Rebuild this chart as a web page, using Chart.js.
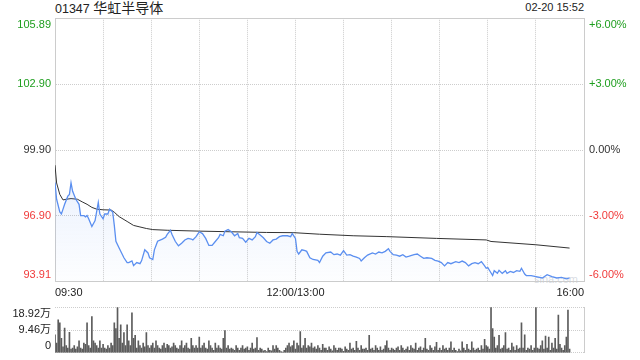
<!DOCTYPE html>
<html><head><meta charset="utf-8">
<script src="https://cdn.jsdelivr.net/npm/chart.js@4.4.1/dist/chart.umd.min.js"></script>
<style>
html,body{margin:0;padding:0;background:#fff;width:640px;height:360px;overflow:hidden;position:relative;font-family:"Liberation Sans","Noto Sans CJK SC",sans-serif;}
#c1{position:absolute;left:0;top:0;}
#c2{position:absolute;left:0;top:290px;}
.t{position:absolute;white-space:nowrap;color:#222;}
</style></head><body>
<div class="t" style="left:55px;top:-1px;line-height:16px;"><span style="font-size:12.5px">01347 </span><span style="font-size:14px;font-family:'Noto Sans CJK SC'">华虹半导体</span></div>
<div class="t" style="right:56px;top:1px;font-size:11px;line-height:13px;">02-20 15:52</div>
<div class="t" style="left:534px;top:273px;font-size:11px;color:rgba(140,150,170,0.35);">sina.com</div>
<canvas id="c1" width="640" height="300"></canvas>
<canvas id="c2" width="640" height="80"></canvas>
<script>
const prevClose = 99.90;
const pctSteps = [-6, -3, 0, 3, 6];
const priceTickLabels = ['93.91', '96.90', '99.90', '102.90', '105.89'];
const pctTickLabels = ['-6.00%', '-3.00%', '0.00%', '+3.00%', '+6.00%'];
const gridMinutes = [0,30,60,90,120,150,180,210,240,270,300,330];
const xTickMinutes = [0, 150, 330];
const xTickLabels = ['09:30', '12:00/13:00', '16:00'];
const volTicks = [0, 9.46, 18.92];
const volTickLabels = ['0', '9.46万', '18.92万'];

const priceMinutes = [0,1,3,4,5,6,8,9,10,11,13,15,16,18,19,20,21,23,25,27,28,30,31,33,34,36,37,38,40,43,45,46,48,49,51,53,54,56,58,59,61,62,64,67,69,70,72,73,75,77,79,81,83,85,86,88,90,92,94,96,98,100,102,103,105,106,108,110,112,114,115,117,119,121,123,125,126,128,130,132,134,136,138,140,142,145,147,148,150,151,152,154,156,157,159,161,164,165,167,169,172,174,176,178,180,182,184,186,188,190,191,193,195,198,200,202,204,206,208,209,211,213,215,217,219,221,224,226,228,230,232,235,237,239,241,243,245,247,250,252,254,256,258,260,262,264,266,268,269,270,271,273,274,276,277,279,281,282,284,286,288,290,291,293,294,297,300,304,307,310,313,316,319,321];
const priceValues = [98.42,97.66,97.08,96.99,97.21,97.43,97.80,97.88,98.41,98.02,97.66,97.43,96.92,96.92,96.86,96.92,96.77,96.42,96.69,97.52,96.99,96.77,96.99,96.99,97.21,97.08,96.47,95.75,95.44,95.00,94.78,94.78,94.86,94.64,94.78,94.73,94.86,95.36,95.22,95.00,94.92,95.36,95.75,95.85,95.93,96.06,96.25,96.06,95.75,95.54,95.66,95.81,95.88,95.85,95.81,95.96,96.18,96.10,95.88,95.56,95.56,95.74,95.91,96.06,96.00,96.21,96.28,96.18,96.00,96.10,95.91,95.88,95.71,95.88,95.81,95.96,96.15,96.03,95.91,95.74,95.66,95.81,95.85,95.96,96.00,96.00,95.96,96.10,95.88,95.29,95.17,95.36,95.32,95.29,95.00,94.92,94.88,94.78,95.07,95.22,95.26,95.14,95.17,95.12,95.32,95.12,95.14,95.07,95.03,94.97,94.85,95.00,95.12,95.22,95.17,95.26,95.22,95.29,95.41,95.29,95.14,95.12,95.07,95.14,95.03,95.07,95.14,95.17,95.07,94.97,95.00,94.97,94.88,94.85,94.78,94.63,94.78,94.73,94.82,94.78,94.85,94.78,94.63,94.73,94.78,94.73,94.82,94.63,94.52,94.55,94.43,94.19,94.41,94.29,94.43,94.29,94.41,94.29,94.38,94.33,94.41,94.38,94.52,94.26,94.19,94.19,94.14,94.08,94.23,94.14,94.08,94.11,94.04,94.08];

const avgMinutes = [0,1,3,5,7,10,14,17,20,23,26,30,35,37,40,45,49,53,57,61,70,90,111,132,149,165,186,207,238,269,272,300,321];
const avgValues = [99.21,98.40,97.88,97.63,97.66,97.69,97.66,97.54,97.43,97.29,97.21,97.18,97.17,97.07,96.87,96.65,96.47,96.40,96.33,96.28,96.25,96.21,96.18,96.15,96.14,96.07,96.00,95.96,95.88,95.81,95.74,95.59,95.44];

// volume per minute, in 万 shares
const volumes = [
7.5,4,13.7,12.4,6,2.5,10.3,3,2,8.5,
1.5,2,3,1.5,2.5,5,2,1.5,4,3.5,
12.4,3,2,15,5,4,3,2,5,2,
3.5,2,1.5,3,2,4,3,12.4,10,18.92,
6,11.6,4,8.4,3,11.6,5,3,16.6,6,
7.2,2,5,3,2,4,2.5,8.4,3,2,
3,4,2,5,3,2,1.5,3,4,2,
3.5,3,2,2.5,4,3,2,1.5,3,5,
2,3,4,2,1.5,6,3,2,3,2,
6.5,2,3,4,2,1.5,5,3,2,1,
4,2,3,2,1.5,6,9.2,2,3,1.5,
2,1.5,1,3,2,1,2,3,1.5,2,
2.5,1,2,4,1.5,2,6.3,1,2,1.5,
0.8,1,0.5,2,1,0.8,3,1.5,3,2,
1,0.5,0.3,1,2,3,4,2.5,3,5,
1.5,4,3,8.8,2,3,6,2,3,2.5,
4,2,2.5,1.5,3,2,1,3.5,2,2,
1,2.5,1.5,0.8,3,2,1,2,2,1.5,
0.6,2.5,1.5,1,4,1.5,2,1,4.8,2,
1,3,1.5,1.5,2,1,7.2,1.5,2,1,
3,2,1,2.5,1,1.5,3,5,2,1,
2,1.5,1,2,2.5,1,3,2,1,1.5,
2.5,1,3,2,1.5,4,1,2,2.5,1,
2,6,1.5,1,3,2,1,2.5,4.3,1,
2,1,3,1.5,2,1,2,4.6,1,2,
1,0.5,1.5,0.8,4.6,2,1,3.5,1.5,1,
4.6,2,1,1.5,2,1,3,1.5,5.6,3,
2.5,1.5,18.92,10,6.5,2,3,7.2,1.5,2,
3,8.4,1.5,2,1,4,2.5,1,3,1.5,
2,12.4,2,7.5,1,2,1.5,3,1,2,
18.92,2,1.5,3,5,1.5,6.9,2,6.5,1,
4,2,6,1.5,15.6,3.5,2,1,3,6.5,
17.7,1.5];

const UP = '#1e9e1e', DOWN = '#f03a3a', FLAT = '#333333';
const GRID = '#cdcdcd', FRAME = '#cccccc';
Chart.defaults.font.family = '"Liberation Sans","Noto Sans CJK SC",sans-serif';
Chart.defaults.font.size = 11;
Chart.defaults.color = '#333';

const priceTickVals = pctSteps.map(p => prevClose * (1 + p / 100));
const pctColor = i => pctSteps[i] > 0 ? UP : (pctSteps[i] < 0 ? DOWN : FLAT);
const shiftLabel = (text, i, n) => i === 0 ? [text, ''] : (i === n - 1 ? ['', text] : text);

new Chart(document.getElementById('c1'), {
  type: 'line',
  data: {
    datasets: [
      {
        data: priceMinutes.map((m, i) => ({x: m, y: priceValues[i]})),
        borderColor: '#5b8ff0', borderWidth: 1.3, pointRadius: 0, tension: 0,
        fill: 'start',
        backgroundColor: (ctx) => {
          const ca = ctx.chart.chartArea;
          if (!ca) return 'rgba(91,143,240,0.08)';
          const g = ctx.chart.ctx.createLinearGradient(0, 170, 0, ca.bottom);
          g.addColorStop(0, 'rgba(91,143,240,0.13)');
          g.addColorStop(1, 'rgba(91,143,240,0.01)');
          return g;
        },
        yAxisID: 'y'
      },
      {
        data: avgMinutes.map((m, i) => ({x: m, y: avgValues[i]})),
        borderColor: '#333', borderWidth: 1, pointRadius: 0, tension: 0, fill: false,
        yAxisID: 'y'
      }
    ]
  },
  options: {
    responsive: false, animation: false, devicePixelRatio: 1,
    layout: {padding: {top: 14, left: 0, right: 0, bottom: 0}},
    plugins: {legend: {display: false}, tooltip: {enabled: false}},
    scales: {
      x: {
        type: 'linear', position: 'bottom', min: 0, max: 330,
        afterBuildTicks: s => { s.ticks = gridMinutes.map(v => ({value: v})); },
        afterFit: s => { s.height = 16; },
        ticks: {
          autoSkip: false, maxRotation: 0, padding: 5, align: 'inner', color: '#222',
          callback: v => { const k = xTickMinutes.indexOf(v); return k >= 0 ? xTickLabels[k] : ''; }
        },
        grid: {color: GRID, drawTicks: false},
        border: {display: true, color: FRAME, dash: [1, 1]}
      },
      xTop: {
        type: 'linear', position: 'top', min: 0, max: 330,
        afterFit: s => { s.height = 0; },
        ticks: {display: false}, grid: {display: false, drawTicks: false},
        border: {display: true, color: FRAME}
      },
      y: {
        position: 'left', min: priceTickVals[0], max: priceTickVals[4],
        afterBuildTicks: s => { s.ticks = priceTickVals.map(v => ({value: v})); },
        afterFit: s => { s.width = 55; },
        ticks: {
          padding: 4, autoSkip: false,
          color: ctx => pctColor(ctx.index),
          callback: (v, i, arr) => shiftLabel(priceTickLabels[i], i, arr.length)
        },
        grid: {color: GRID, drawTicks: false},
        border: {display: true, color: FRAME, dash: [1, 1]}
      },
      yPct: {
        position: 'right', min: pctSteps[0], max: pctSteps[4],
        afterBuildTicks: s => { s.ticks = pctSteps.map(v => ({value: v})); },
        afterFit: s => { s.width = 56; },
        ticks: {
          padding: 5, autoSkip: false,
          color: ctx => pctColor(ctx.index),
          callback: (v, i, arr) => shiftLabel(pctTickLabels[i], i, arr.length)
        },
        grid: {drawOnChartArea: false, drawTicks: false},
        border: {display: true, color: FRAME}
      }
    }
  }
});

new Chart(document.getElementById('c2'), {
  type: 'bar',
  data: {
    datasets: [{
      data: volumes.map((v, i) => ({x: i, y: v})),
      backgroundColor: '#5c5c5c', barThickness: 1, borderWidth: 0
    }]
  },
  options: {
    responsive: false, animation: false, devicePixelRatio: 1,
    layout: {padding: {top: 14, bottom: 15, left: 0, right: 0}},
    plugins: {legend: {display: false}, tooltip: {enabled: false}},
    scales: {
      x: {type: 'linear', min: 0, max: 330, offset: false, display: false, grid: {offset: false}},
      y: {
        position: 'left', min: volTicks[0], max: volTicks[2],
        afterBuildTicks: s => { s.ticks = volTicks.map(v => ({value: v})); },
        afterFit: s => { s.width = 55; },
        ticks: {
          padding: 4, color: '#222', autoSkip: false,
          callback: (v, i, arr) => shiftLabel(volTickLabels[i], i, arr.length)
        },
        grid: {color: GRID, drawTicks: false},
        border: {display: false, dash: [1, 1]}
      },
      yR: {
        position: 'right', min: 0, max: 1,
        afterFit: s => { s.width = 56; },
        ticks: {display: false},
        grid: {display: false, drawTicks: false},
        border: {display: true, color: FRAME}
      }
    }
  }
});
</script>
</body></html>
